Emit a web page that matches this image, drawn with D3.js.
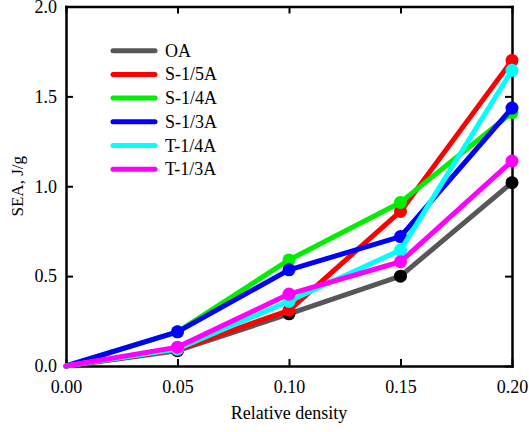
<!DOCTYPE html>
<html>
<head>
<meta charset="utf-8">
<script src="https://cdnjs.cloudflare.com/ajax/libs/d3/7.8.5/d3.min.js"></script>
<style>
body { margin: 0; background: #fff; }
text { font-family: "Liberation Serif", "Times New Roman", serif; }
</style>
</head>
<body>
<div id="chart"></div>
<script>
var w = 529, h = 432;
var margin = {left: 66, right: 17, top: 6.5, bottom: 66};

var density = [0, 0.05, 0.10, 0.15, 0.20];
var names = ["OA", "S-1/5A", "S-1/4A", "S-1/3A", "T-1/4A", "T-1/3A"];
var lineColors = ["#575757", "#ff0000", "#00ee00", "#0000ff", "#00ffff", "#ff00ff"];
var dotColors = ["#000000", "#ff0000", "#00ee00", "#0000ff", "#00ffff", "#ff00ff"];
var OA = [0, 0.085, 0.29, 0.50, 1.02];
var S15 = [0, 0.09, 0.31, 0.86, 1.70];
var S14 = [0, 0.19, 0.59, 0.91, 1.41];
var S13 = [0, 0.19, 0.535, 0.72, 1.435];
var T14 = [0, 0.095, 0.36, 0.645, 1.645];
var T13 = [0, 0.105, 0.40, 0.58, 1.14];
var series = [OA, S15, S14, S13, T14, T13];
var xTicks = [0, 0.05, 0.10, 0.15, 0.20];
var yTicks = [0, 0.5, 1.0, 1.5, 2.0];

var x = d3.scaleLinear().domain([0, 0.20]).range([margin.left, w - margin.right]);
var y = d3.scaleLinear().domain([0, 2.0]).range([h - margin.bottom, margin.top]);

var svg = d3.select("#chart").append("svg")
    .attr("width", w)
    .attr("height", h);

// axes, ticks inward on all four sides
function styleAxis(g) {
    g.selectAll("path").attr("stroke", "#000").attr("stroke-width", 2.5);
    g.selectAll("line").attr("stroke", "#000").attr("stroke-width", 2);
    g.selectAll("text").attr("font-size", "18px").attr("fill", "#000");
}

svg.append("g")
    .attr("transform", "translate(0," + (h - margin.bottom) + ")")
    .call(d3.axisBottom(x).tickValues(xTicks).tickFormat(d3.format(".2f")).tickSizeInner(-7).tickSizeOuter(0).tickPadding(14))
    .call(styleAxis);
svg.append("g")
    .attr("transform", "translate(0," + margin.top + ")")
    .call(d3.axisTop(x).tickValues(xTicks).tickFormat("").tickSizeInner(-7).tickSizeOuter(0))
    .call(styleAxis);
svg.append("g")
    .attr("transform", "translate(" + margin.left + ",0)")
    .call(d3.axisLeft(y).tickValues(yTicks).tickFormat(d3.format(".1f")).tickSizeInner(-7).tickSizeOuter(0).tickPadding(9))
    .call(styleAxis);
svg.append("g")
    .attr("transform", "translate(" + (w - margin.right) + ",0)")
    .call(d3.axisRight(y).tickValues(yTicks).tickFormat("").tickSizeInner(-7).tickSizeOuter(0))
    .call(styleAxis);

svg.selectAll(".domain").attr("stroke-linecap", "square");

// axis titles
svg.append("text")
    .attr("x", (margin.left + w - margin.right) / 2)
    .attr("y", 419)
    .attr("text-anchor", "middle")
    .attr("font-size", "18px")
    .text("Relative density");

svg.append("text")
    .attr("transform", "translate(23," + (margin.top + (h - margin.bottom - margin.top) / 2) + ") rotate(-90)")
    .attr("text-anchor", "middle")
    .attr("font-size", "17px")
    .text("SEA, J/g");

// lines and markers
var line = d3.line()
    .x(function(d, i) { return x(density[i]); })
    .y(function(d) { return y(d); });

series.forEach(function(s, k) {
    var g = svg.append("g");
    g.append("path")
        .datum(s)
        .attr("d", line)
        .attr("fill", "none")
        .attr("stroke", lineColors[k])
        .attr("stroke-width", 5)
        .attr("stroke-linejoin", "round");
    g.selectAll("circle")
        .data(s)
        .enter()
        .append("circle")
        .attr("cx", function(d, i) { return x(density[i]); })
        .attr("cy", function(d) { return y(d); })
        .attr("r", function(d, i) { return i == 0 ? 2.5 : 6.5; })
        .attr("fill", dotColors[k]);
});

// legend
var legend = svg.append("g");
names.forEach(function(n, k) {
    var ly = 50.7 + k * 23.7;
    legend.append("line")
        .attr("x1", 113).attr("x2", 155)
        .attr("y1", ly).attr("y2", ly)
        .attr("stroke", lineColors[k])
        .attr("stroke-width", 5)
        .attr("stroke-linecap", "round");
    legend.append("text")
        .attr("x", 165)
        .attr("y", ly + 6)
        .attr("font-size", "18px")
        .text(n);
});
</script>
</body>
</html>
